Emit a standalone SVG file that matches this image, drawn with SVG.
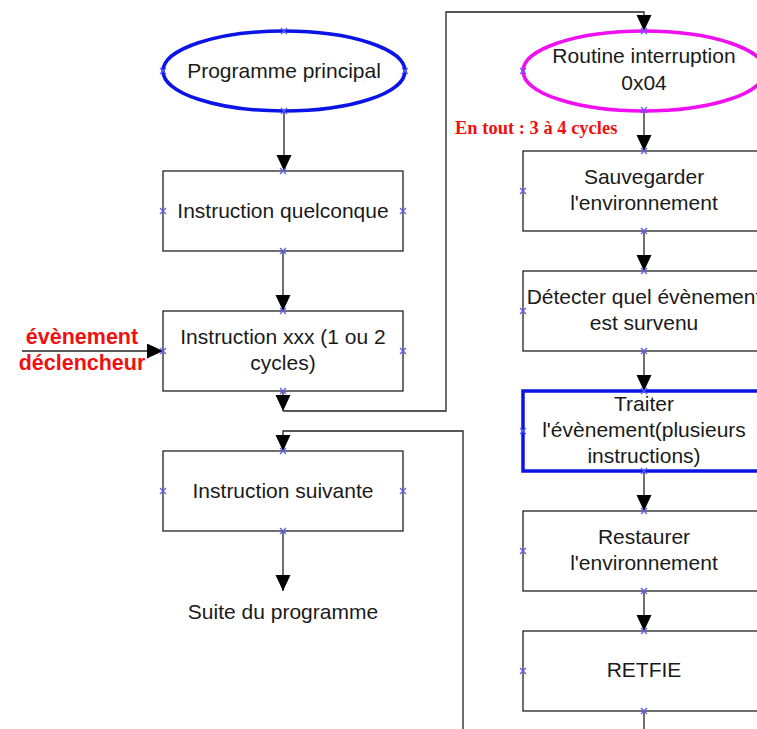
<svg xmlns="http://www.w3.org/2000/svg" xmlns:xlink="http://www.w3.org/1999/xlink" width="757" height="729" viewBox="0 0 757 729">
<style>
.box{fill:none;stroke:#222;stroke-width:1.3}
.hl{fill:none;stroke:#0a14e6;stroke-width:3.5}
.t{font-family:"Liberation Sans",Arial,sans-serif;font-size:21px;fill:#1a1a1a;text-anchor:middle}
.c{fill:none;stroke:#222;stroke-width:1.3}
.red{font-family:"Liberation Sans",Arial,sans-serif;font-size:21.5px;font-weight:bold;fill:#f01010;text-anchor:middle}
.reds{font-family:"Liberation Serif","Times New Roman",serif;font-size:18.5px;font-weight:bold;fill:#f01010}
</style>
<defs>
<marker id="ah" markerUnits="userSpaceOnUse" markerWidth="16" markerHeight="18" viewBox="0 0 16 18" refX="16" refY="7.5" orient="auto">
<path d="M0,0 L16,7.5 L0,15 Z" fill="#000"/>
</marker>
<path id="x" d="M-3,-3 L3,3 M-3,3 L3,-3" stroke="#5a5aff" stroke-width="1.2" fill="none"/>
</defs>
<rect width="757" height="729" fill="#fff"/>

<g id="connectors">
<path class="c" d="M284,111 V171" marker-end="url(#ah)"/>
<path class="c" d="M283,251 V311" marker-end="url(#ah)"/>
<path class="c" d="M283,391 V411" marker-end="url(#ah)"/>
<path class="c" d="M283,411 H446 V12 H644 V31" marker-end="url(#ah)"/>
<path class="c" d="M463,729 V431 H283 V451" marker-end="url(#ah)"/>
<path class="c" d="M283,531 V591" marker-end="url(#ah)"/>
<path class="c" d="M22,351 H163" marker-end="url(#ah)"/>
<path class="c" d="M644,110 V151" marker-end="url(#ah)"/>
<path class="c" d="M644,231 V271" marker-end="url(#ah)"/>
<path class="c" d="M644,351 V391" marker-end="url(#ah)"/>
<path class="c" d="M644,471 V511" marker-end="url(#ah)"/>
<path class="c" d="M644,591 V631" marker-end="url(#ah)"/>
<path class="c" d="M644,711 V729"/>
</g>

<g id="n-programme">
<ellipse cx="284" cy="71" rx="121" ry="40" fill="none" stroke="#0a14e6" stroke-width="3.5"/>
<text class="t" x="284" y="78">Programme principal</text>
<use xlink:href="#x" x="284" y="31"/><use xlink:href="#x" x="163" y="71"/><use xlink:href="#x" x="405" y="71"/><use xlink:href="#x" x="284" y="111"/>
</g>

<g id="n-quelconque">
<rect class="box" x="163" y="171" width="240" height="80"/>
<text class="t" x="283" y="218">Instruction quelconque</text>
<use xlink:href="#x" x="283" y="171"/><use xlink:href="#x" x="163" y="211"/><use xlink:href="#x" x="403" y="211"/><use xlink:href="#x" x="283" y="251"/>
</g>

<g id="n-xxx">
<rect class="box" x="163" y="311" width="240" height="80"/>
<text class="t" x="283" y="344">Instruction xxx (1 ou 2</text>
<text class="t" x="283" y="370">cycles)</text>
<use xlink:href="#x" x="283" y="311"/><use xlink:href="#x" x="163" y="351"/><use xlink:href="#x" x="403" y="351"/><use xlink:href="#x" x="283" y="391"/>
</g>

<g id="n-evenement">
<text class="red" x="82" y="344">évènement</text>
<text class="red" x="82" y="370">déclencheur</text>
</g>

<g id="n-suivante">
<rect class="box" x="163" y="451" width="240" height="80"/>
<text class="t" x="283" y="498">Instruction suivante</text>
<use xlink:href="#x" x="283" y="451"/><use xlink:href="#x" x="163" y="491"/><use xlink:href="#x" x="403" y="491"/><use xlink:href="#x" x="283" y="531"/>
</g>

<g id="n-suite">
<text class="t" x="283" y="619">Suite du programme</text>
</g>

<g id="n-routine">
<ellipse cx="644" cy="71" rx="121" ry="40" fill="none" stroke="#f00ff0" stroke-width="3.5"/>
<text class="t" x="644" y="63">Routine interruption</text>
<text class="t" x="644" y="90">0x04</text>
<use xlink:href="#x" x="644" y="31"/><use xlink:href="#x" x="523" y="71"/><use xlink:href="#x" x="644" y="110"/>
</g>

<g id="n-entout">
<text class="reds" x="455" y="134">En tout : 3 à 4 cycles</text>
</g>

<g id="n-sauvegarder">
<rect class="box" x="523" y="151" width="241" height="80"/>
<text class="t" x="644" y="184">Sauvegarder</text>
<text class="t" x="644" y="210">l'environnement</text>
<use xlink:href="#x" x="644" y="151"/><use xlink:href="#x" x="523" y="191"/><use xlink:href="#x" x="644" y="231"/>
</g>

<g id="n-detecter">
<rect class="box" x="523" y="271" width="241" height="80"/>
<text class="t" x="644" y="304">Détecter quel évènement</text>
<text class="t" x="644" y="330">est survenu</text>
<use xlink:href="#x" x="644" y="271"/><use xlink:href="#x" x="523" y="311"/><use xlink:href="#x" x="644" y="351"/>
</g>

<g id="n-traiter">
<rect class="hl" x="523" y="391" width="241" height="80"/>
<text class="t" x="644" y="411">Traiter</text>
<text class="t" x="644" y="437">l'évènement(plusieurs</text>
<text class="t" x="644" y="463">instructions)</text>
<use xlink:href="#x" x="644" y="391"/><use xlink:href="#x" x="523" y="431"/><use xlink:href="#x" x="644" y="471"/>
</g>

<g id="n-restaurer">
<rect class="box" x="523" y="511" width="241" height="80"/>
<text class="t" x="644" y="544">Restaurer</text>
<text class="t" x="644" y="570">l'environnement</text>
<use xlink:href="#x" x="644" y="511"/><use xlink:href="#x" x="523" y="551"/><use xlink:href="#x" x="644" y="591"/>
</g>

<g id="n-retfie">
<rect class="box" x="523" y="631" width="241" height="80"/>
<text class="t" x="644" y="677">RETFIE</text>
<use xlink:href="#x" x="644" y="631"/><use xlink:href="#x" x="523" y="671"/><use xlink:href="#x" x="644" y="711"/>
</g>
</svg>
